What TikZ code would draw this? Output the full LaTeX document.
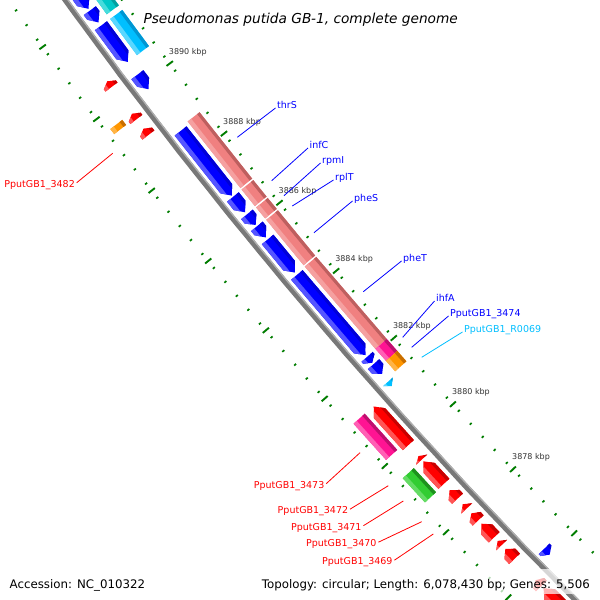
\documentclass[tikz,border=0pt]{standalone}
\usepackage{fontspec}
\setmainfont{DejaVu Sans}
\definecolor{gBlue}{RGB}{0,0,255}
\definecolor{gBlueL}{RGB}{85,85,255}
\definecolor{gBlueD}{RGB}{0,0,215}
\definecolor{gRed}{RGB}{255,0,0}
\definecolor{gRedL}{RGB}{255,85,85}
\definecolor{gRedD}{RGB}{200,0,0}
\definecolor{gSal}{RGB}{240,128,128}
\definecolor{gSalL}{RGB}{245,160,160}
\definecolor{gSalD}{RGB}{190,95,95}
\definecolor{gPink}{RGB}{255,20,147}
\definecolor{gPinkL}{RGB}{255,95,180}
\definecolor{gPinkD}{RGB}{190,15,110}
\definecolor{gOr}{RGB}{255,150,0}
\definecolor{gOrL}{RGB}{255,180,70}
\definecolor{gOrD}{RGB}{200,110,0}
\definecolor{gGr}{RGB}{50,205,50}
\definecolor{gGrL}{RGB}{100,220,100}
\definecolor{gGrD}{RGB}{30,145,30}
\definecolor{gCy}{RGB}{0,191,255}
\definecolor{gCyL}{RGB}{90,215,255}
\definecolor{gCyD}{RGB}{0,150,210}
\definecolor{gTe}{RGB}{0,200,200}
\definecolor{gTeL}{RGB}{70,220,220}
\definecolor{gTeD}{RGB}{0,160,160}
\definecolor{tickc}{RGB}{0,125,0}
\definecolor{bbg}{RGB}{120,120,120}
\definecolor{bbl}{RGB}{175,175,175}
% track radii
\def\bA{5068}\def\bB{5083}
\def\sA{5049}\def\sB{5064}
\def\rA{5096}\def\rB{5111}
\def\oA{5115}\def\oB{5130}
\newcommand\gshade[5]{%
  \fill[#5] ({ka(#1+0.3)}:{#3-1}) -- ({ka(#2-0.3)}:{#3-1}) -- ({ka(#2-0.3)}:{#4+1}) -- ({ka(#1+0.3)}:{#4+1}) -- cycle;
  \fill[#5L] ({ka(#1+0.3)}:{#4-0.28*(#4-#3)}) -- ({ka(#2-0.3)}:{#4-0.28*(#4-#3)}) -- ({ka(#2-0.3)}:{#4+1}) -- ({ka(#1+0.3)}:{#4+1}) -- cycle;
  \fill[#5D] ({ka(#1+0.3)}:{#3-1}) -- ({ka(#2-0.3)}:{#3-1}) -- ({ka(#2-0.3)}:{#3+0.22*(#4-#3)}) -- ({ka(#1+0.3)}:{#3+0.22*(#4-#3)}) -- cycle;}
\newcommand\gdn[6]{\begin{scope}
  \clip ({ka(#1)}:#3) -- ({ka(#2+#6)}:#3) -- ({ka(#2)}:{(#3+#4)/2}) -- ({ka(#2+#6)}:#4) -- ({ka(#1)}:#4) -- cycle;
  \gshade{#1}{#2}{#3}{#4}{#5}\end{scope}}
\newcommand\gup[6]{\begin{scope}
  \clip ({ka(#1)}:{(#3+#4)/2}) -- ({ka(#1-#6)}:#3) -- ({ka(#2)}:#3) -- ({ka(#2)}:#4) -- ({ka(#1-#6)}:#4) -- cycle;
  \gshade{#1}{#2}{#3}{#4}{#5}\end{scope}}
\newcommand\gbox[5]{\begin{scope}
  \clip ({ka(#1)}:#3) -- ({ka(#2)}:#3) -- ({ka(#2)}:#4) -- ({ka(#1)}:#4) -- cycle;
  \gshade{#1}{#2}{#3}{#4}{#5}\end{scope}}
\newcommand\gtdn[5]{\begin{scope}
  \clip ({ka(#1)}:#3) -- ({ka(#2)}:{(#3+#4)/2}) -- ({ka(#1)}:#4) -- cycle;
  \gshade{#1}{#2}{#3}{#4}{#5}\end{scope}}
\newcommand\gtup[5]{\begin{scope}
  \clip ({ka(#1)}:{(#3+#4)/2}) -- ({ka(#2)}:#3) -- ({ka(#2)}:#4) -- cycle;
  \gshade{#1}{#2}{#3}{#4}{#5}\end{scope}}
\begin{document}
\begin{tikzpicture}[x=1pt,y=-1pt,
  declare function={ka(\k)=139.77+0.5033*(\k-3884);},
  kbp/.style={font=\fontsize{8}{9}\selectfont, text=black!80, inner sep=0, anchor=west},
  blab/.style={font=\fontsize{9.5}{11}\selectfont, text=gBlue, inner sep=0, anchor=base west},
  rlab/.style={font=\fontsize{9.5}{11}\selectfont, text=gRed, inner sep=0, anchor=base east},
  bline/.style={gBlue, line width=0.8},
  rline/.style={gRed, line width=0.8},
  legend/.style={font=\fontsize{11.8}{14}\selectfont, inner sep=0}]
\useasboundingbox (0,0) rectangle (600,600);
\clip (0,0) rectangle (600,600);
\fill[white] (0,0) rectangle (600,600);
\begin{scope}[shift={(4186,-2986)}]
  % tick rings
  \foreach \i in {0,...,60} {
    \pgfmathsetmacro\kk{3871+0.4*\i}
    \draw[tickc, line width=1.7] ({ka(\kk)}:5041.8) -- ({ka(\kk)}:5044.4);
    \draw[tickc, line width=1.7] ({ka(\kk)}:5133.8) -- ({ka(\kk)}:5136.4);
  }
  \foreach \kk in {3872,3874,...,3894} {
    \draw[tickc, line width=1.9] ({ka(\kk)}:5039) -- ({ka(\kk)}:5047);
    \draw[tickc, line width=1.9] ({ka(\kk)}:5131) -- ({ka(\kk)}:5139);
  }
  % backbone
  \draw[bbg, line width=5.5] plot[domain=134:146, samples=90] (\x:5089);
  \draw[bbl, line width=1.3] plot[domain=134:146, samples=90] (\x:5086.8);
  % blue track
  \gdn{3894}{3892.08}{\bA}{\bB}{gBlue}{0.2}
  \gdn{3892.03}{3891.70}{\bA}{\bB}{gBlue}{0.2}
  \gdn{3891.61}{3890.60}{\bA}{\bB}{gBlue}{0.2}
  \gdn{3890.24}{3889.83}{\bA}{\bB}{gBlue}{0.2}
  \gdn{3888.65}{3886.80}{\bA}{\bB}{gBlue}{0.2}
  \gdn{3886.76}{3886.32}{\bA}{\bB}{gBlue}{0.2}
  \gdn{3886.26}{3885.95}{\bA}{\bB}{gBlue}{0.18}
  \gdn{3885.91}{3885.59}{\bA}{\bB}{gBlue}{0.2}
  \gdn{3885.53}{3884.57}{\bA}{\bB}{gBlue}{0.2}
  \gdn{3884.50}{3882.13}{\bA}{\bB}{gBlue}{0.2}
  \gdn{3882.08}{3881.90}{\bA}{\bB}{gBlue}{0.12}
  \gdn{3881.86}{3881.57}{\bA}{\bB}{gBlue}{0.15}
  \gtdn{3881.35}{3881.22}{5070}{5083}{gCy}
  \gdn{3876.22}{3876.04}{\bA}{\bB}{gBlue}{0.12}
  % second track (right)
  \gbox{3894}{3891.74}{\sA}{\sB}{gTe}
  \gbox{3891.61}{3890.60}{\sA}{\sB}{gCy}
  \gbox{3888.72}{3886.81}{\sA}{\sB}{gSal}
  \gbox{3886.77}{3886.29}{\sA}{\sB}{gSal}
  \gbox{3886.25}{3885.93}{\sA}{\sB}{gSal}
  \gbox{3885.89}{3884.57}{\sA}{\sB}{gSal}
  \gbox{3884.53}{3882.09}{\sA}{\sB}{gSal}
  \gbox{3882.09}{3881.73}{\sA}{\sB}{gPink}
  \gbox{3881.73}{3881.42}{\sA}{\sB}{gOr}
  % red track
  \gup{3890.53}{3890.37}{\rA}{\rB}{gRed}{0.1}
  \gup{3889.62}{3889.46}{\rA}{\rB}{gRed}{0.1}
  \gup{3889.20}{3889.02}{\rA}{\rB}{gRed}{0.1}
  \gup{3881.15}{3879.99}{\rA}{\rB}{gRed}{0.2}
  \gtup{3879.66}{3879.55}{\rA}{\rB}{gRed}
  \gup{3879.50}{3878.82}{\rA}{\rB}{gRed}{0.2}
  \gup{3878.63}{3878.37}{\rA}{\rB}{gRed}{0.15}
  \gtup{3878.20}{3878.07}{\rA}{\rB}{gRed}
  \gup{3877.92}{3877.70}{\rA}{\rB}{gRed}{0.12}
  \gup{3877.60}{3877.18}{\rA}{\rB}{gRed}{0.18}
  \gtup{3877.07}{3876.94}{\rA}{\rB}{gRed}
  \gup{3876.82}{3876.52}{\rA}{\rB}{gRed}{0.15}
  \gup{3875.85}{3875.67}{\rA}{\rB}{gRed}{0.1}
  \gup{3875.60}{3873}{\rA}{\rB}{gRed}{0.2}
  % outer left track
  \gbox{3889.64}{3889.50}{\oA}{\oB}{gOr}
  \gbox{3881.16}{3880.08}{\oA}{\oB}{gPink}
  \gbox{3879.53}{3878.80}{\oA}{\oB}{gGr}
  % tick labels
  \foreach \kk in {3878,3880,...,3890}
    \node[kbp, xshift=-1pt, yshift=11.5pt] (k\kk) at ({ka(\kk)}:5043) {\kk\ kbp};
\end{scope}
% label anchors on features
\coordinate (pthrS) at (237.3,137.3);
\coordinate (pinfC) at (271.7,180.7);
\coordinate (prpmI) at (284,195.7);
\coordinate (prplT) at (292.3,206);
\coordinate (ppheS) at (314,232.7);
\coordinate (ppheT) at (363.3,291.7);
\coordinate (pihfA) at (402.7,337.3);
\coordinate (p3474) at (411.7,347.3);
\coordinate (pR69) at (421.7,357.3);
\coordinate (p3482) at (112.7,153.3);
\coordinate (p3473) at (360,452.7);
\coordinate (p3472) at (388.3,485.7);
\coordinate (p3471) at (403.3,501);
\coordinate (p3470) at (421.7,521.7);
\coordinate (p3469) at (433.3,534);
% blue labels
\node[blab] (lthrS) at (277,108) {thrS};
\node[blab] (linfC) at (309.5,148) {infC};
\node[blab] (lrpmI) at (322,163) {rpmI};
\node[blab] (lrplT) at (335,180) {rplT};
\node[blab] (lpheS) at (354,201) {pheS};
\node[blab] (lpheT) at (403,261) {pheT};
\node[blab] (lihfA) at (436,301) {ihfA};
\node[blab] (l3474) at (450,316) {PputGB1\_3474};
\node[blab, text=gCy] (lR69) at (464,332) {PputGB1\_R0069};
\foreach \n in {thrS,infC,rpmI,rplT,pheS,pheT,ihfA,3474}
  \draw[bline] (p\n) -- ([xshift=-1.5pt]l\n.base west);
\draw[gCy, line width=0.8] (pR69) -- ([xshift=-1.5pt]lR69.base west);
% red labels
\node[rlab] (l3482) at (75,187) {PputGB1\_3482};
\node[rlab] (l3473) at (324.5,488) {PputGB1\_3473};
\node[rlab] (l3472) at (348.3,513.5) {PputGB1\_3472};
\node[rlab] (l3471) at (361.7,530) {PputGB1\_3471};
\node[rlab] (l3470) at (376.7,546.5) {PputGB1\_3470};
\node[rlab] (l3469) at (392.7,564.5) {PputGB1\_3469};
\foreach \n in {3482,3473,3472,3471,3470,3469}
  \draw[rline] ([shift={(1.7,-4.3)}]l\n.base east) -- (p\n);
% legend
\fill[white, opacity=0.7] (254,569) rectangle (597,594);
\node[legend, anchor=base west, font=\fontsize{13.7}{16}\selectfont\itshape] (title) at (143.3,23.3) {Pseudomonas putida GB-1, complete genome};
\node[legend, anchor=base west] (acc) at (9.5,588) {Accession: NC\_010322};
\node[legend, anchor=base east] (topo) at (590,588) {Topology: circular; Length: 6,078,430 bp; Genes: 5,506};
\end{tikzpicture}
\end{document}
